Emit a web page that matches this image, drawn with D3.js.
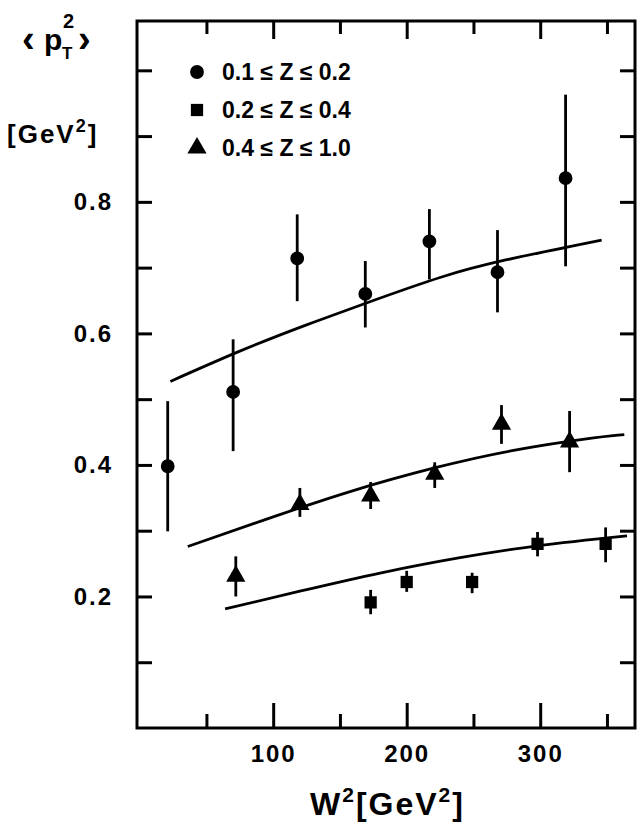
<!DOCTYPE html>
<html>
  <head>
    <meta charset="UTF-8">
    <title>pT2 vs W2</title>
    <script src="https://d3js.org/d3.v7.min.js"></script>
    <style>
      body { margin: 0; background: #fff; }
      text { font-family: "Liberation Sans", Arial, sans-serif; font-weight: bold; fill: #000; }
    </style>
  </head>
  <body>
    <div id="chart"></div>
    <script>
      // legend labels
      const zLabels = ["0.1 \u2264 Z \u2264 0.2", "0.2 \u2264 Z \u2264 0.4", "0.4 \u2264 Z \u2264 1.0"];

      // 0.1 < Z < 0.2 (circles)
      const circW  = [21, 70, 118, 169, 217, 268, 319];
      const circP  = [0.398, 0.511, 0.714, 0.660, 0.740, 0.693, 0.836];
      const circLo = [0.299, 0.421, 0.649, 0.609, 0.682, 0.632, 0.702];
      const circHi = [0.497, 0.591, 0.781, 0.710, 0.789, 0.757, 0.963];

      // 0.2 < Z < 0.4 (squares)
      const sqW  = [173, 200, 249, 298, 349];
      const sqP  = [0.191, 0.222, 0.222, 0.280, 0.280];
      const sqLo = [0.173, 0.207, 0.205, 0.261, 0.252];
      const sqHi = [0.210, 0.239, 0.236, 0.298, 0.305];

      // 0.4 < Z < 1.0 (triangles)
      const triW  = [72, 120, 173, 221, 271, 322];
      const triP  = [0.231, 0.340, 0.353, 0.386, 0.462, 0.435];
      const triLo = [0.200, 0.321, 0.333, 0.365, 0.432, 0.389];
      const triHi = [0.261, 0.365, 0.374, 0.404, 0.491, 0.482];

      // model curves
      const topCurveW = [23, 75, 125, 175, 225, 275, 346];
      const topCurveP = [0.527, 0.573, 0.613, 0.650, 0.685, 0.712, 0.742];
      const midCurveW = [36, 100, 160, 220, 280, 340, 363];
      const midCurveP = [0.276, 0.321, 0.361, 0.395, 0.422, 0.441, 0.446];
      const lowCurveW = [64, 120, 181, 240, 298, 365];
      const lowCurveP = [0.181, 0.208, 0.236, 0.259, 0.277, 0.292];

      // ticks
      const xMajor = [100, 200, 300];
      const xMinor = [50, 150, 250, 350];
      const yTicks = [0.1, 0.2, 0.3, 0.4, 0.5, 0.6, 0.7, 0.8, 0.9, 1.0];
      const yLabelled = [0.2, 0.4, 0.6, 0.8];

      const W = 640, H = 826;
      const svg = d3.select("#chart").append("svg")
        .attr("width", W).attr("height", H);

      const x = d3.scaleLinear().domain([-2, 371]).range([137, 635]);
      const y = d3.scaleLinear().domain([0, 1.075]).range([728, 21]);
      const [x0, x1] = x.range();
      const [yb, yt] = y.range();

      // frame
      svg.append("rect")
        .attr("x", x0).attr("y", yt)
        .attr("width", x1 - x0).attr("height", yb - yt)
        .attr("fill", "none").attr("stroke", "#000").attr("stroke-width", 3);

      function styleAxis(g) {
        g.select(".domain").remove();
        g.selectAll(".tick line").attr("stroke", "#000").attr("stroke-width", 3);
        g.selectAll(".tick text")
          .style("font-size", "24px")
          .attr("letter-spacing", "2px");
      }

      // bottom axis
      svg.append("g").attr("transform", `translate(0,${yb})`)
        .call(d3.axisBottom(x).tickValues(xMajor).tickSize(-25).tickPadding(17))
        .call(styleAxis);
      svg.append("g").attr("transform", `translate(0,${yb})`)
        .call(d3.axisBottom(x).tickValues(xMinor).tickSize(-14).tickFormat(""))
        .call(styleAxis);
      // top axis
      svg.append("g").attr("transform", `translate(0,${yt})`)
        .call(d3.axisTop(x).tickValues(xMajor).tickSize(-18).tickFormat(""))
        .call(styleAxis);
      svg.append("g").attr("transform", `translate(0,${yt})`)
        .call(d3.axisTop(x).tickValues(xMinor).tickSize(-13).tickFormat(""))
        .call(styleAxis);
      // left axis
      svg.append("g").attr("transform", `translate(${x0},0)`)
        .call(d3.axisLeft(y).tickValues(yTicks).tickSize(-15).tickPadding(24)
          .tickFormat(d => yLabelled.some(v => Math.abs(v - d) < 1e-9) ? d3.format(".1f")(d) : ""))
        .call(styleAxis);
      // right axis
      svg.append("g").attr("transform", `translate(${x1},0)`)
        .call(d3.axisRight(y).tickValues(yTicks).tickSize(-15).tickFormat(""))
        .call(styleAxis);

      // curves
      const line = d3.line().x(d => x(d[0])).y(d => y(d[1])).curve(d3.curveNatural);
      [[topCurveW, topCurveP], [midCurveW, midCurveP], [lowCurveW, lowCurveP]].forEach(([ws, ps]) => {
        svg.append("path")
          .datum(ws.map((w, i) => [w, ps[i]]))
          .attr("d", line)
          .attr("fill", "none").attr("stroke", "#000").attr("stroke-width", 2.8);
      });

      // error bars
      function errBars(ws, lo, hi) {
        svg.append("g").selectAll("line")
          .data(ws.map((w, i) => ({w, lo: lo[i], hi: hi[i]})))
          .join("line")
          .attr("x1", d => x(d.w)).attr("x2", d => x(d.w))
          .attr("y1", d => y(d.lo)).attr("y2", d => y(d.hi))
          .attr("stroke", "#000").attr("stroke-width", 2.8);
      }
      errBars(circW, circLo, circHi);
      errBars(sqW, sqLo, sqHi);
      errBars(triW, triLo, triHi);

      const circSym = d3.symbol().type(d3.symbolCircle).size(150);
      const sqSym = d3.symbol().type(d3.symbolSquare).size(150);
      const triSym = d3.symbol().type(d3.symbolTriangle).size(160);

      function markers(ws, ps, sym) {
        svg.append("g").selectAll("path")
          .data(ws.map((w, i) => [w, ps[i]]))
          .join("path")
          .attr("d", sym)
          .attr("transform", d => `translate(${x(d[0])},${y(d[1])})`)
          .attr("fill", "#000");
      }
      markers(circW, circP, circSym);
      markers(sqW, sqP, sqSym);
      markers(triW, triP, triSym);

      // legend
      const legSyms = [circSym, sqSym, triSym];
      const leg = svg.append("g");
      zLabels.forEach((lab, i) => {
        const cy = 72 + i * 38;
        leg.append("path").attr("d", legSyms[i])
          .attr("transform", `translate(197,${cy})`).attr("fill", "#000");
        leg.append("text").attr("x", 222).attr("y", cy + 8)
          .style("font-size", "23px").text(lab);
      });

      // y axis title
      const yt1 = svg.append("g");
      yt1.append("text").attr("x", 22).attr("y", 52).style("font-size", "38px").text("\u2039");
      yt1.append("text").attr("x", 44).attr("y", 50).style("font-size", "30px").text("p");
      yt1.append("text").attr("x", 62).attr("y", 59).style("font-size", "17px").text("T");
      yt1.append("text").attr("x", 63).attr("y", 28).style("font-size", "20px").text("2");
      yt1.append("text").attr("x", 78).attr("y", 52).style("font-size", "38px").text("\u203A");

      const gev = svg.append("text").attr("x", 7).attr("y", 143)
        .style("font-size", "26px").attr("letter-spacing", "2px");
      gev.append("tspan").text("[GeV");
      gev.append("tspan").attr("dy", -11).style("font-size", "18px").text("2");
      gev.append("tspan").attr("dy", 11).text("]");

      // x axis title
      const xt = svg.append("text").attr("x", 310).attr("y", 815)
        .style("font-size", "32px").attr("letter-spacing", "2px");
      xt.append("tspan").text("W");
      xt.append("tspan").attr("dy", -13).style("font-size", "21px").text("2");
      xt.append("tspan").attr("dy", 13).text("[GeV");
      xt.append("tspan").attr("dy", -13).style("font-size", "21px").text("2");
      xt.append("tspan").attr("dy", 13).text("]");
    </script>
  </body>
</html>
